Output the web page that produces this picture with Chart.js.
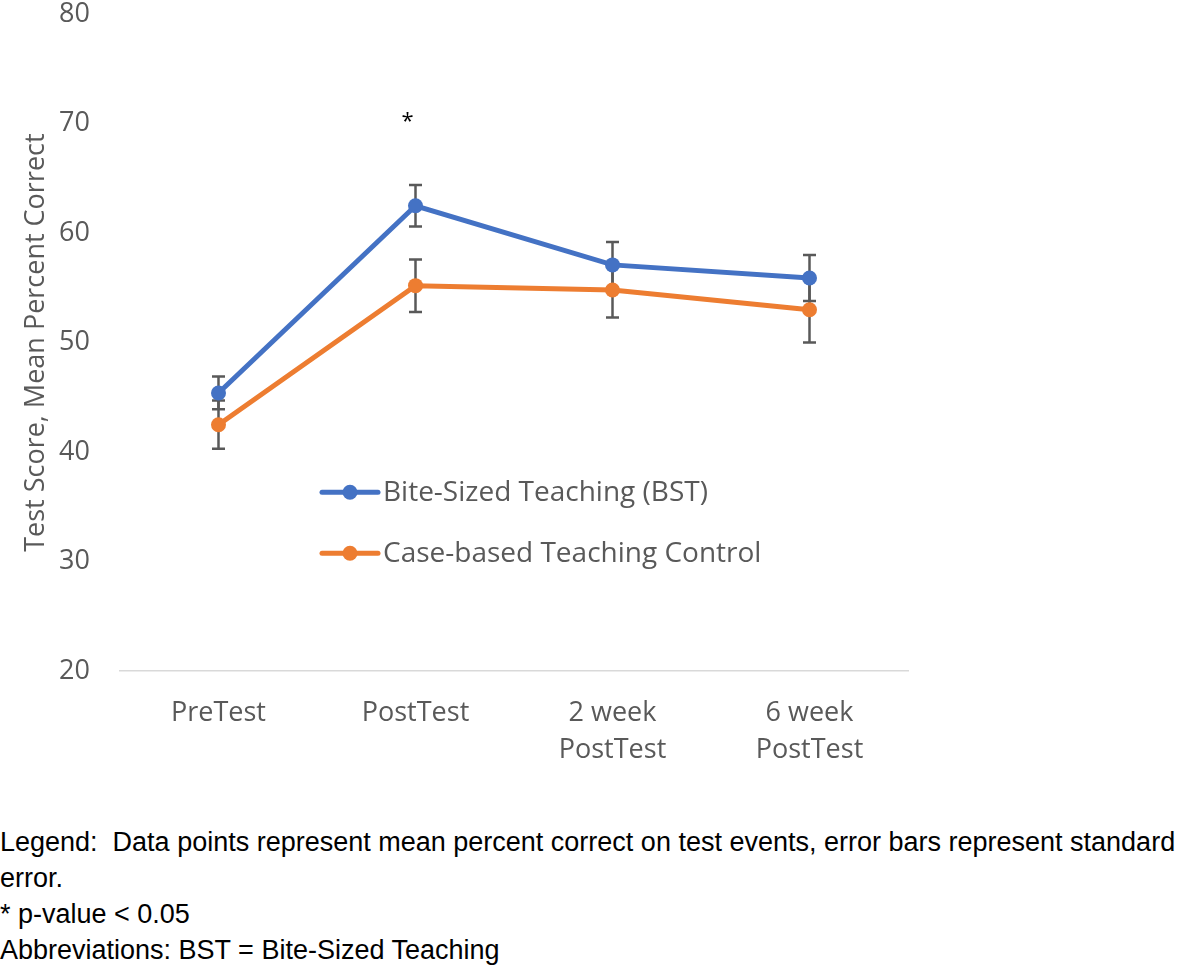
<!DOCTYPE html>
<html>
<head>
<meta charset="utf-8">
<script src="https://cdn.jsdelivr.net/npm/chart.js@4/dist/chart.umd.min.js"></script>
<style>
  html, body { margin: 0; padding: 0; background: #fff; overflow: hidden; }
  #wrap { position: relative; width: 1181px; height: 966px; overflow: hidden; }
  #chartBox { position: absolute; left: 0; top: -32px; width: 1181px; height: 822px; }
  #notes {
    position: absolute; left: 0; top: 824px; width: 1181px;
    font-family: "Liberation Sans", Arial, sans-serif;
    font-size: 27px; line-height: 36px; color: #000; white-space: nowrap;
  }
</style>
</head>
<body>
<div id="wrap">
  <div id="chartBox"><canvas id="chart"></canvas></div>
  <div id="notes">
    <div>Legend:&nbsp; Data points represent mean percent correct on test events, error bars represent standard</div>
    <div>error.</div>
    <div>* p-value &lt; 0.05</div>
    <div>Abbreviations: BST = Bite-Sized Teaching</div>
  </div>
</div>
<script>
// chart values
const categories = [['PreTest'], ['PostTest'], ['2 week', 'PostTest'], ['6 week', 'PostTest']];
const bstMeans = [45.4, 62.5, 57.1, 55.9];
const bstErrors = [1.5, 1.9, 2.1, 2.1];
const controlMeans = [42.5, 55.2, 54.8, 53.0];
const controlErrors = [2.2, 2.4, 2.5, 3.0];
const sigMarks = ['', '*', '', ''];
const yTicks = [20, 30, 40, 50, 60, 70, 80];

const blue = '#4472C4';
const orange = '#ED7D31';
const textGrey = '#595959';
const uiFont = '"Open Sans", "Noto Sans", sans-serif';

// error bars, drawn under the lines and markers
const errorBars = {
  id: 'errorBars',
  beforeDatasetsDraw(chart) {
    const ctx = chart.ctx;
    const y = chart.scales.y;
    ctx.save();
    ctx.strokeStyle = '#595959';
    ctx.lineWidth = 2.5;
    chart.data.datasets.forEach((ds, i) => {
      const meta = chart.getDatasetMeta(i);
      meta.data.forEach((pt, j) => {
        const err = ds.errors[j];
        const top = y.getPixelForValue(ds.data[j] + err);
        const bot = y.getPixelForValue(ds.data[j] - err);
        ctx.beginPath();
        ctx.moveTo(pt.x, top); ctx.lineTo(pt.x, bot);
        ctx.moveTo(pt.x - 6.5, top); ctx.lineTo(pt.x + 6.5, top);
        ctx.moveTo(pt.x - 6.5, bot); ctx.lineTo(pt.x + 6.5, bot);
        ctx.stroke();
      });
    });
    ctx.restore();
  }
};

// significance asterisk + in-plot legend
const extras = {
  id: 'extras',
  afterDraw(chart) {
    const ctx = chart.ctx;
    const x = chart.scales.x;
    const y = chart.scales.y;
    const area = chart.chartArea;
    ctx.save();
    ctx.fillStyle = '#000';
    ctx.font = '22px ' + uiFont;
    ctx.textAlign = 'center';
    ctx.textBaseline = 'middle';
    sigMarks.forEach((m, i) => {
      if (m) ctx.fillText(m, x.getPixelForValue(i) - 8, y.getPixelForValue(70.5) + 4);
    });

    // legend
    const lx = area.left + 202;
    const rows = [
      { label: chart.data.datasets[0].label, color: blue, yy: area.top + 478 },
      { label: chart.data.datasets[1].label, color: orange, yy: area.top + 539 }
    ];
    ctx.font = '28px ' + uiFont;
    ctx.textAlign = 'left';
    rows.forEach(r => {
      ctx.strokeStyle = r.color;
      ctx.lineWidth = 5;
      ctx.lineCap = 'round';
      ctx.beginPath();
      ctx.moveTo(lx, r.yy); ctx.lineTo(lx + 56, r.yy);
      ctx.stroke();
      ctx.fillStyle = r.color;
      ctx.beginPath();
      ctx.arc(lx + 28, r.yy, 7.5, 0, Math.PI * 2);
      ctx.fill();
      ctx.fillStyle = textGrey;
      ctx.fillText(r.label, lx + 61, r.yy + 1);
    });
    ctx.restore();
  }
};

new Chart(document.getElementById('chart'), {
  type: 'line',
  data: {
    labels: categories,
    datasets: [
      {
        label: 'Bite-Sized Teaching (BST)',
        data: bstMeans,
        errors: bstErrors,
        borderColor: blue,
        backgroundColor: blue,
        borderWidth: 5,
        pointRadius: 7.5,
        pointBorderWidth: 0,
        tension: 0
      },
      {
        label: 'Case-based Teaching Control',
        data: controlMeans,
        errors: controlErrors,
        borderColor: orange,
        backgroundColor: orange,
        borderWidth: 5,
        pointRadius: 7.5,
        pointBorderWidth: 0,
        tension: 0
      }
    ]
  },
  options: {
    responsive: true,
    maintainAspectRatio: false,
    animation: false,
    layout: { padding: { top: 12, right: 273, left: 20, bottom: 0 } },
    plugins: { legend: { display: false }, tooltip: { enabled: false } },
    scales: {
      x: {
        offset: true,
        grid: { display: false, drawTicks: false },
        border: { display: true, color: '#D9D9D9', width: 1.5 },
        ticks: { color: textGrey, font: { family: uiFont, size: 27, lineHeight: 1.37 }, padding: 24, maxRotation: 0 },
        afterFit(s) { s.height = 119; }
      },
      y: {
        min: 20,
        max: 80,
        afterBuildTicks(s) { s.ticks = yTicks.map(v => ({ value: v })); },
        grid: { display: false, drawTicks: false },
        border: { display: false },
        ticks: { color: textGrey, font: { family: uiFont, size: 27 }, padding: 30 },
        title: {
          display: true,
          text: 'Test Score, Mean Percent Correct',
          color: textGrey,
          font: { family: uiFont, size: 27 },
          padding: 0
        },
        afterFit(s) { s.width = 100; }
      }
    }
  },
  plugins: [errorBars, extras]
});
</script>
</body>
</html>
